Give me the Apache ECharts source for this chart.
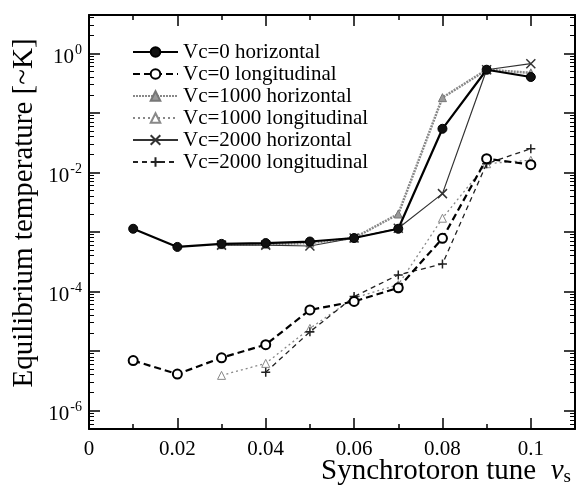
<!DOCTYPE html>
<html>
<head>
<meta charset="utf-8">
<script src="https://cdn.jsdelivr.net/npm/echarts@6/dist/echarts.min.js"></script>
<style>
html,body{margin:0;padding:0;background:#fff;}
#c{width:583px;height:491px;}
</style>
</head>
<body>
<div id="c"></div>
<script>
const nu = [0.01, 0.02, 0.03, 0.04, 0.05, 0.06, 0.07, 0.08, 0.09, 0.10];
const vc0H    = [1.13e-3, 5.6e-4, 6.3e-4, 6.5e-4, 6.9e-4, 7.9e-4, 1.13e-3, 0.054, 0.53, 0.40];
const vc0L    = [6.9e-6, 4.1e-6, 7.7e-6, 1.28e-5, 4.9e-5, 6.8e-5, 1.15e-4, 7.8e-4, 0.017, 0.0135];
const vc1000H = [null, null, 6.1e-4, 6.2e-4, 6.5e-4, 7.9e-4, 2.0e-3, 0.18, 0.53, 0.47];
const vc1000L = [null, null, 3.9e-6, 6.2e-6, 2.4e-5, 7.8e-5, 1.3e-4, 1.7e-3, 0.014, 0.016];
const vc2000H = [null, null, 6.0e-4, 6.0e-4, 5.8e-4, 7.9e-4, 1.15e-3, 4.4e-3, 0.53, 0.67];
const vc2000L = [null, null, null, 4.4e-6, 2.1e-5, 8.2e-5, 1.9e-4, 2.9e-4, 0.014, 0.025];
const seriesNames = ['Vc=0 horizontal', 'Vc=0 longitudinal', 'Vc=1000 horizontal',
                     'Vc=1000 longitudinal', 'Vc=2000 horizontal', 'Vc=2000 longitudinal'];
const xTickLabels = ['0', '0.02', '0.04', '0.06', '0.08', '0.1'];
const yTickExponents = [0, -2, -4, -6];

const FONT = 'Liberation Serif';
const pairs = arr => nu.map((x, i) => [x, arr[i]]).filter(p => p[1] != null);

const X_SYM = 'path://M0,0L10,10M10,0L0,10';
const PLUS_SYM = 'path://M5,0L5,10M0,5L10,5';

const chart = echarts.init(document.getElementById('c'), null, {renderer: 'canvas'});

const xCommon = {
  type: 'value', min: 0, max: 0.11, interval: 0.02,
  axisLine: {show: true, onZero: false, lineStyle: {color: '#000', width: 2}},
  axisTick: {show: true, inside: true, length: 11, lineStyle: {color: '#000', width: 1.5}},
  minorTick: {show: true, splitNumber: 2, length: 5, lineStyle: {color: '#000', width: 1.5}},
  splitLine: {show: false}, minorSplitLine: {show: false}
};
const yCommon = {
  type: 'log', logBase: 10, min: 4.9e-7, max: 4.4,
  axisLine: {show: true, onZero: false, lineStyle: {color: '#000', width: 2}},
  axisTick: {show: true, inside: true, length: 11, lineStyle: {color: '#000', width: 1.5}},
  minorTick: {show: true, splitNumber: 9, length: 5, lineStyle: {color: '#000', width: 1}},
  splitLine: {show: false}, minorSplitLine: {show: false}
};

const option = {
  backgroundColor: '#fff',
  animation: false,
  grid: {left: 89, right: 8, top: 15, bottom: 62, containLabel: false, outerBoundsMode: 'none'},
  legend: {
    orient: 'vertical', left: 127, top: 36,
    itemWidth: 45, itemHeight: 12, itemGap: 0,
    data: seriesNames,
    textStyle: {fontFamily: FONT, fontSize: 21, color: '#000', lineHeight: 22}
  },
  xAxis: [
    Object.assign({}, xCommon, {
      position: 'bottom',
      axisLabel: {
        show: true, margin: 10, fontFamily: FONT, fontSize: 21, color: '#000',
        showMaxLabel: false,
        formatter: v => {
          const i = Math.round(v / 0.02);
          return (Math.abs(v - i * 0.02) < 1e-9 && i < xTickLabels.length) ? xTickLabels[i] : '';
        }
      },
      name: '{a|Synchrotoron tune  }{n|\u03bd}{s|s}',
      nameLocation: 'middle', nameGap: 27, nameMoveOverlap: false,
      nameTextStyle: {
        padding: [0, 0, 0, 228],
        rich: {
          a: {fontFamily: FONT, fontSize: 29, color: '#000'},
          n: {fontFamily: FONT, fontSize: 29, fontStyle: 'italic', color: '#000'},
          s: {fontFamily: FONT, fontSize: 19, color: '#000', padding: [12, 0, 0, 0]}
        }
      }
    }),
    Object.assign({}, xCommon, {position: 'top', axisLabel: {show: false}})
  ],
  yAxis: [
    Object.assign({}, yCommon, {
      position: 'left',
      axisLabel: {
        show: true, margin: 7, color: '#000',
        formatter: v => {
          const e = Math.log10(v);
          const r = Math.round(e);
          if (Math.abs(e - r) > 1e-6 || yTickExponents.indexOf(r) < 0) return '';
          return '{b|10}{s|' + r + '}';
        },
        rich: {
          b: {fontFamily: FONT, fontSize: 21, color: '#000', padding: [8, 0, 0, 0]},
          s: {fontFamily: FONT, fontSize: 14, color: '#000', padding: [0, 0, 6, 1]}
        }
      },
      name: 'Equilibrium temperature [~K]',
      nameLocation: 'middle', nameGap: 50, nameMoveOverlap: false,
      nameTextStyle: {fontFamily: FONT, fontSize: 29, color: '#000', padding: [0, 0, 0, 18]}
    }),
    Object.assign({}, yCommon, {position: 'right', axisLabel: {show: false}})
  ],
  series: [
    {
      name: seriesNames[0], type: 'line', z: 10, data: pairs(vc0H),
      symbol: 'circle', symbolSize: 9,
      lineStyle: {color: '#000', width: 2.2, type: 'solid'},
      itemStyle: {color: '#111', borderColor: '#000', borderWidth: 1}
    },
    {
      name: seriesNames[1], type: 'line', z: 9, data: pairs(vc0L),
      symbol: 'circle', symbolSize: 9,
      lineStyle: {color: '#000', width: 2.2, type: [7, 4]},
      itemStyle: {color: '#fff', borderColor: '#000', borderWidth: 2}
    },
    {
      name: seriesNames[2], type: 'line', z: 4, data: pairs(vc1000H),
      symbol: 'triangle', symbolSize: 8,
      lineStyle: {color: '#888', width: 2.5, type: [2, 1]},
      itemStyle: {color: '#999', borderColor: '#777', borderWidth: 1}
    },
    {
      name: seriesNames[3], type: 'line', z: 3, data: pairs(vc1000L),
      symbol: 'triangle', symbolSize: 8,
      lineStyle: {color: '#888', width: 1.3, type: [2, 3]},
      itemStyle: {color: '#fff', borderColor: '#888', borderWidth: 1}
    },
    {
      name: seriesNames[4], type: 'line', z: 5, data: pairs(vc2000H),
      symbol: X_SYM, symbolSize: 9,
      lineStyle: {color: '#333', width: 1.2, type: 'solid'},
      itemStyle: {color: '#333', borderColor: '#333', borderWidth: 1.5}
    },
    {
      name: seriesNames[5], type: 'line', z: 6, data: pairs(vc2000L),
      symbol: PLUS_SYM, symbolSize: 9,
      lineStyle: {color: '#222', width: 1.3, type: [5, 4]},
      itemStyle: {color: '#222', borderColor: '#222', borderWidth: 1.5}
    }
  ]
};
chart.setOption(option);
</script>
</body>
</html>
